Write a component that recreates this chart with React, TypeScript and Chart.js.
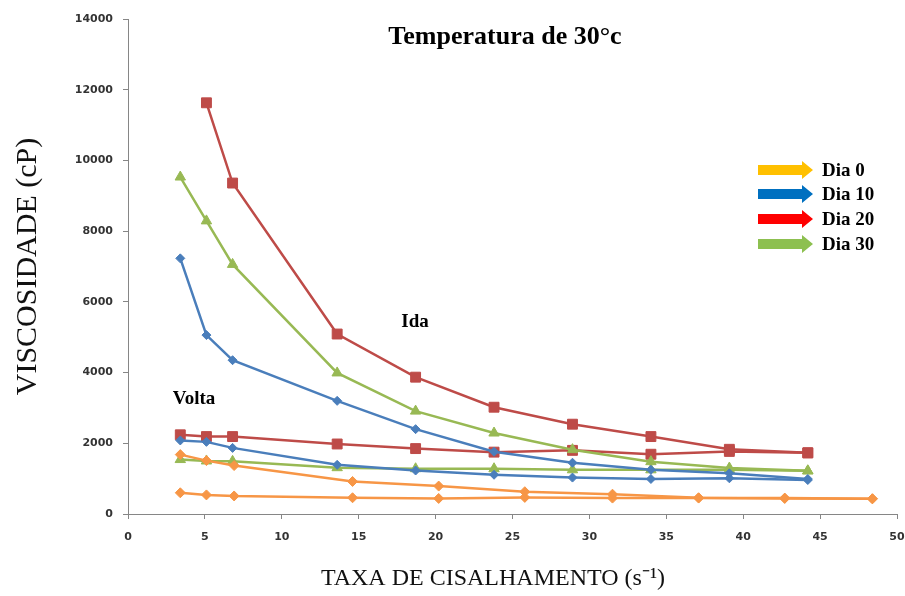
import React, { useEffect, useRef } from "react";
import { Chart, registerables } from "chart.js";

Chart.register(...registerables);

// Shear rates (s-1)
const xRates = [3.4, 5.1, 6.8, 13.6, 18.7, 23.8, 28.9, 34.0, 39.1, 44.2];
const xRatesDia0 = [3.4, 5.1, 6.9, 14.6, 20.2, 25.8, 31.5, 37.1, 42.7, 48.4];

// Viscosity (cP)
const dia0Ida = [1680, 1510, 1370, 920, 790, 630, 560, 460, 450, 430];
const dia0Volta = [600, 540, 510, 460, 440, 470, 450, 450, 440, 430];
const dia10Ida = [7230, 5060, 4350, 3200, 2400, 1760, 1450, 1250, 1150, 990];
const dia10Volta = [2080, 2040, 1870, 1390, 1230, 1110, 1030, 990, 1010, 960];
const dia20Ida = [null, 11630, 9360, 5090, 3870, 3020, 2540, 2190, 1830, 1730];
const dia20Volta = [2240, 2190, 2190, 1980, 1850, 1750, 1800, 1690, 1770, 1730];
const dia30Ida = [9530, 8290, 7060, 3990, 2910, 2290, 1820, 1480, 1300, 1220];
const dia30Volta = [1540, 1500, 1490, 1310, 1280, 1280, 1250, 1250, 1250, 1220];

const yTicks = [0, 2000, 4000, 6000, 8000, 10000, 12000, 14000];
const xTicks = [0, 5, 10, 15, 20, 25, 30, 35, 40, 45, 50];

const legendLabels = ["Dia 0", "Dia 10", "Dia 20", "Dia 30"];
const legendColors = ["#FFC000", "#0070C0", "#FF0000", "#8DC050"];

const titleText = "Temperatura de 30°c";
const yTitle = "VISCOSIDADE (cP)";
const xTitle = "TAXA DE CISALHAMENTO (s⁻¹)";

function pts(xs: number[], ys: (number | null)[]) {
  const out: { x: number; y: number }[] = [];
  ys.forEach((v, i) => {
    if (v !== null) out.push({ x: xs[i], y: v });
  });
  return out;
}

const ORANGE = "#F79646";
const BLUE = "#4A7EBB";
const RED = "#BE4B48";
const GREEN = "#98B954";

function ds(label: string, data: any, color: string, style: string, radius: number) {
  return {
    label,
    data,
    borderColor: color,
    backgroundColor: color,
    borderWidth: 2.5,
    pointStyle: style,
    pointRadius: radius,
    pointBorderWidth: 1,
    pointBorderColor: color,
    pointBackgroundColor: color,
    tension: 0,
    fill: false,
  };
}

const overlayPlugin = {
  id: "overlay",
  afterDraw(chart: any) {
    const ctx = chart.ctx;
    ctx.save();
    ctx.fillStyle = "#000";
    ctx.textBaseline = "middle";
    ctx.textAlign = "center";
    ctx.font = "bold 26px 'Liberation Serif', serif";
    ctx.fillText(titleText, 505, 37);
    ctx.font = "bold 19px 'Liberation Serif', serif";
    ctx.fillText("Ida", 415, 322);
    ctx.fillText("Volta", 194, 399);

    // x axis title
    ctx.fillStyle = "#111";
    ctx.font = "24px 'Liberation Serif', serif";
    ctx.fillText(xTitle, 493, 579);

    // legend with arrows
    const ys = [170, 194, 219, 244];
    ys.forEach((y, i) => {
      ctx.fillStyle = legendColors[i];
      ctx.beginPath();
      ctx.moveTo(758, y - 5);
      ctx.lineTo(802, y - 5);
      ctx.lineTo(802, y - 9);
      ctx.lineTo(813, y);
      ctx.lineTo(802, y + 9);
      ctx.lineTo(802, y + 5);
      ctx.lineTo(758, y + 5);
      ctx.closePath();
      ctx.fill();
      ctx.fillStyle = "#000";
      ctx.textAlign = "left";
      ctx.font = "bold 19px 'Liberation Serif', serif";
      ctx.fillText(legendLabels[i], 822, y + 1);
    });
    ctx.restore();
  },
};

export default function App() {
  const ref = useRef<HTMLCanvasElement | null>(null);
  useEffect(() => {
    document.body.style.margin = "0";
    if (!ref.current) return;
    const chart = new Chart(ref.current, {
      type: "line",
      data: {
        datasets: [
          ds("Dia 0 Ida", pts(xRatesDia0, dia0Ida), ORANGE, "rectRot", 5),
          ds("Dia 0 Volta", pts(xRatesDia0, dia0Volta), ORANGE, "rectRot", 5),
          ds("Dia 10 Ida", pts(xRates, dia10Ida), BLUE, "rectRot", 4.5),
          ds("Dia 10 Volta", pts(xRates, dia10Volta), BLUE, "rectRot", 4.5),
          ds("Dia 30 Ida", pts(xRates, dia30Ida), GREEN, "triangle", 6),
          ds("Dia 30 Volta", pts(xRates, dia30Volta), GREEN, "triangle", 6),
          ds("Dia 20 Ida", pts(xRates, dia20Ida), RED, "rect", 7),
          ds("Dia 20 Volta", pts(xRates, dia20Volta), RED, "rect", 7),
        ],
      },
      options: {
        responsive: false,
        animation: false,
        layout: { padding: { top: 19, right: 0, left: 0, bottom: 0 } },
        plugins: {
          legend: { display: false },
          tooltip: { enabled: false },
          title: { display: false },
        },
        scales: {
          x: {
            type: "linear",
            min: 0,
            max: 50,
            afterFit: (s: any) => {
              s.height = 82;
              s.paddingRight = 8;
            },
            afterBuildTicks: (s: any) => {
              s.ticks = xTicks.map((v) => ({ value: v }));
            },
            grid: {
              display: true,
              drawOnChartArea: false,
              drawTicks: true,
              tickLength: 5,
              color: "#868686",
            },
            border: { display: true, color: "#868686", width: 1 },
            ticks: {
              padding: 12,
              color: "#333",
              font: { family: "'DejaVu Sans', sans-serif", size: 11, weight: "bold" },
              maxRotation: 0,
              callback: (v: any) => String(v),
            },
            title: { display: false },
          },
          y: {
            type: "linear",
            min: 0,
            max: 14000,
            afterFit: (s: any) => {
              s.width = 128;
            },
            afterBuildTicks: (s: any) => {
              s.ticks = yTicks.map((v) => ({ value: v }));
            },
            grid: {
              display: true,
              drawOnChartArea: false,
              drawTicks: true,
              tickLength: 5,
              color: "#868686",
            },
            border: { display: true, color: "#868686", width: 1 },
            ticks: {
              padding: 10,
              color: "#333",
              font: { family: "'DejaVu Sans', sans-serif", size: 11, weight: "bold" },
              callback: (v: any) => String(v),
            },
            title: {
              display: true,
              text: yTitle,
              color: "#111",
              font: { family: "'Liberation Serif', serif", size: 30 },
              padding: { top: 10, bottom: 0 },
            },
          },
        },
      },
      plugins: [overlayPlugin],
    } as any);
    return () => chart.destroy();
  }, []);
  return <canvas ref={ref} width={905} height={596} style={{ display: "block" }} />;
}
